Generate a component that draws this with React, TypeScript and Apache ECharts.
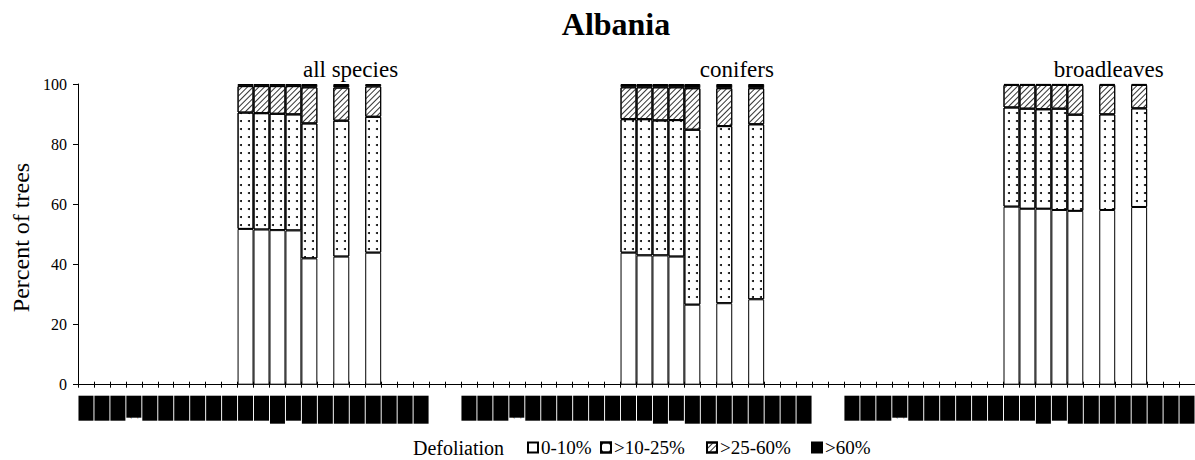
import React, { useEffect, useRef } from "react";
import * as echarts from "echarts";

const FONT = "Liberation Serif";

// Category axis: three panels of 22 years, separated by two empty slots
const years = [
  "1986", "1987", "1988", "1989", "1990", "1991", "1992", "1993", "1994", "1995", "1996",
  "1997", "1998", "1999", "2000", "2001", "2002", "2003", "2004", "2005", "2006", "2007",
];
const spacer = ["", ""];
const shortLabelYears = ["1989"];
const longLabelYears = ["1998", "2000", "2001", "2002", "2003", "2004", "2005", "2006", "2007"];

const groupNames = ["all species", "conifers", "broadleaves"];
const barYears = ["1996", "1997", "1998", "1999", "2000", "2002", "2004"];

const classNames = ["0-10%", ">10-25%", ">25-60%", ">60%"];

// all species
const allClass0 = [51.8, 51.6, 51.4, 51.3, 42.0, 42.6, 43.9];
const allClass1 = [38.7, 38.7, 38.7, 38.6, 44.9, 45.2, 45.2];
const allClass2 = [8.8, 9.0, 9.2, 9.4, 12.0, 11.0, 10.1];
const allClass3 = [0.7, 0.7, 0.7, 0.7, 1.1, 1.2, 0.8];
// conifers
const conClass0 = [43.9, 43.0, 43.0, 42.6, 26.6, 27.1, 28.4];
const conClass1 = [44.4, 45.3, 44.9, 45.4, 58.2, 58.9, 58.2];
const conClass2 = [10.6, 10.6, 11.0, 10.9, 13.8, 12.6, 12.0];
const conClass3 = [1.1, 1.1, 1.1, 1.1, 1.4, 1.4, 1.4];
// broadleaves
const brdClass0 = [59.2, 58.5, 58.5, 58.1, 57.8, 58.1, 59.1];
const brdClass1 = [33.0, 33.3, 33.1, 33.7, 32.0, 31.8, 32.8];
const brdClass2 = [7.5, 7.9, 8.1, 7.9, 9.9, 9.8, 7.8];
const brdClass3 = [0.3, 0.3, 0.3, 0.3, 0.3, 0.3, 0.3];

const yTicks = [0, 20, 40, 60, 80, 100];

const groupValues = [
  [allClass0, allClass1, allClass2, allClass3],
  [conClass0, conClass1, conClass2, conClass3],
  [brdClass0, brdClass1, brdClass2, brdClass3],
];

const categoryLabels = [...years, ...spacer, ...years, ...spacer, ...years];
const groupOffset = years.length + spacer.length;

function buildClassData(ci: number) {
  const arr: (number | null)[] = categoryLabels.map(() => null);
  groupValues.forEach((g, gi) => {
    barYears.forEach((y, j) => {
      arr[gi * groupOffset + years.indexOf(y)] = g[ci][j];
    });
  });
  return arr;
}

export default function App() {
  const ref = useRef<HTMLDivElement>(null);
  useEffect(() => {
    if (!ref.current) return;
    const chart = echarts.init(ref.current, undefined, { renderer: "svg" });
    const catW = 16.03;
    const gridLeft = 78;
    const styles = [
      { color: "#fff", borderColor: "#000", borderWidth: 1 },
      {
        color: "#fff",
        borderColor: "#000",
        borderWidth: 1,
        decal: {
          symbol: "circle",
          symbolSize: 1,
          color: "#000",
          dashArrayX: [1.4, 5.3],
          dashArrayY: [1.4, 5.9],
          rotation: 0,
        },
      },
      {
        color: "#fff",
        borderColor: "#000",
        borderWidth: 1,
        decal: {
          symbol: "rect",
          symbolSize: 1,
          color: "#333",
          dashArrayX: [1, 0],
          dashArrayY: [1, 2.8],
          rotation: -Math.PI / 4,
        },
      },
      { color: "#000", borderColor: "#000", borderWidth: 1 },
    ];
    const series = classNames.map((name, ci) => ({
      name,
      type: "bar",
      stack: "defol",
      barCategoryGap: "0%",
      barGap: "0%",
      xAxisIndex: 0,
      data: buildClassData(ci),
      itemStyle: styles[ci],
      emphasis: { disabled: true },
    }));
    const legendLefts = [527, 600, 706, 811];
    const groupCenters = [17, 41.1, 64.3];
    chart.setOption({
      animation: false,
      textStyle: { fontFamily: FONT },
      grid: { left: gridLeft, top: 84, width: catW * categoryLabels.length, height: 300.7 },
      xAxis: [
        {
          type: "category",
          data: categoryLabels,
          boundaryGap: true,
          axisLine: { lineStyle: { color: "#000", width: 1 } },
          axisTick: { show: true, inside: false, length: 3, interval: 0, lineStyle: { color: "#000" } },
          axisLabel: {
            interval: 0,
            rotate: 90,
            margin: 11,
            fontFamily: FONT,
            fontSize: 12,
            color: "#000",
            formatter: (v: string) => {
              if (!v) return "";
              const k = shortLabelYears.includes(v) ? "s" : longLabelYears.includes(v) ? "l" : "n";
              return `{${k}|${v}}`;
            },
            rich: {
              n: { backgroundColor: "#000", color: "#000", width: 25, height: 15, lineHeight: 15, fontSize: 12, fontFamily: FONT },
              s: { backgroundColor: "#000", color: "#000", width: 22, height: 15, lineHeight: 15, fontSize: 12, fontFamily: FONT },
              l: { backgroundColor: "#000", color: "#000", width: 28, height: 15, lineHeight: 15, fontSize: 12, fontFamily: FONT },
            },
          },
          splitLine: { show: false },
        },
        {
          type: "category",
          data: categoryLabels,
          position: "bottom",
          boundaryGap: true,
          axisLine: { show: false },
          axisTick: { show: true, inside: true, length: 3, interval: 0, lineStyle: { color: "#000" } },
          axisLabel: { show: false },
          splitLine: { show: false },
        },
      ],
      yAxis: {
        type: "value",
        min: yTicks[0],
        max: yTicks[yTicks.length - 1],
        interval: 20,
        axisLine: { show: true, lineStyle: { color: "#000", width: 1 } },
        axisTick: { show: true, inside: false, length: 5, lineStyle: { color: "#000" } },
        axisLabel: { margin: 11, fontFamily: FONT, fontSize: 16, color: "#000" },
        splitLine: { show: false },
      },
      legend: classNames.map((n, i) => ({
        data: [n],
        left: legendLefts[i],
        top: 438,
        padding: 0,
        icon: "rect",
        itemWidth: 10,
        itemHeight: 10,
        selectedMode: false,
        textStyle: { fontFamily: FONT, fontSize: 19, color: "#000", padding: [0, 0, 0, -2] },
      })),
      graphic: [
        {
          type: "text",
          x: 616,
          y: 24,
          style: { text: "Albania", font: `bold 32px ${FONT}`, fill: "#000", textAlign: "center", textVerticalAlign: "middle" },
        },
        {
          type: "text",
          x: 21,
          y: 237.5,
          rotation: Math.PI / 2,
          style: { text: "Percent of trees", font: `24px ${FONT}`, fill: "#000", textAlign: "center", textVerticalAlign: "middle" },
        },
        {
          type: "text",
          x: 413,
          y: 448,
          style: { text: "Defoliation", font: `20px ${FONT}`, fill: "#000", textAlign: "left", textVerticalAlign: "middle" },
        },
        ...groupNames.map((g, i) => ({
          type: "text",
          x: gridLeft + catW * groupCenters[i],
          y: 69,
          z: 10,
          style: { text: g, font: `23px ${FONT}`, fill: "#000", textAlign: "center", textVerticalAlign: "middle" },
        })),
      ],
      series,
    });
    return () => chart.dispose();
  }, []);
  return (
    <div
      ref={ref}
      style={{ position: "absolute", left: 0, top: 0, width: 1195, height: 460, background: "#fff" }}
    />
  );
}
